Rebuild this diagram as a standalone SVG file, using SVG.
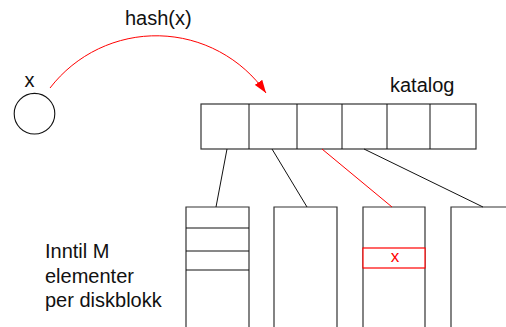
<svg xmlns="http://www.w3.org/2000/svg" width="506" height="327" viewBox="0 0 506 327">
<style>
text{font-family:"Liberation Sans",Arial,sans-serif;font-size:20px;fill:#111}
.box{fill:#fff;stroke:#333;stroke-width:1.2}
.ln{stroke:#111;stroke-width:1;fill:none}
.red{stroke:#f00;stroke-width:1;fill:none}
</style>
<defs>
<marker id="ah" viewBox="0 0 13 9" refX="13" refY="4.5" markerWidth="13" markerHeight="9" markerUnits="userSpaceOnUse" orient="auto">
<path d="M0,0 L13,4.5 L0,9 Z" fill="#f00"/>
</marker>
</defs>
<rect width="506" height="327" fill="#fff"/>
<g id="elem-x">
<circle cx="34.5" cy="113.7" r="20.3" fill="#fff" stroke="#111" stroke-width="1.1"/>
<text x="29.5" y="87" text-anchor="middle">x</text>
</g>
<g id="katalog">
<rect class="box" x="201" y="104" width="275" height="45"/>
<path class="ln" d="M249,104V149M297,104V149M342,104V149M387,104V149M430,104V149" stroke="#333"/>
<text x="390" y="92">katalog</text>
</g>
<g id="block1">
<path class="box" d="M186,335V207H249V335"/>
<path class="ln" d="M186,228H249M186,251H249M186,270H249"/>
</g>
<g id="block2">
<path class="box" d="M274,335V207H337V335"/>
</g>
<g id="block3">
<path class="box" d="M363,335V207H425V335"/>
<rect x="363" y="248" width="62" height="20" fill="#fff" stroke="#f00" stroke-width="1.2"/>
<text x="395" y="261.5" text-anchor="middle" style="font-size:17px;fill:#f00">x</text>
</g>
<g id="block4">
<path class="box" d="M451,335V207H510"/>
</g>
<g id="label">
<text x="45" y="258">Inntil M</text>
<text x="45" y="282.5">elementer</text>
<text x="45" y="306.5">per diskblokk</text>
</g>
<g id="connectors">
<path class="red" d="M50,88 A134,134 0 0 1 266,93" marker-end="url(#ah)"/>
<text x="125" y="25">hash(x)</text>
<line class="ln" x1="227" y1="149" x2="216" y2="207"/>
<line class="ln" x1="272" y1="149" x2="307" y2="207"/>
<line class="red" x1="322" y1="149" x2="392" y2="207"/>
<line class="ln" x1="364" y1="149" x2="483" y2="207"/>
</g>
</svg>
